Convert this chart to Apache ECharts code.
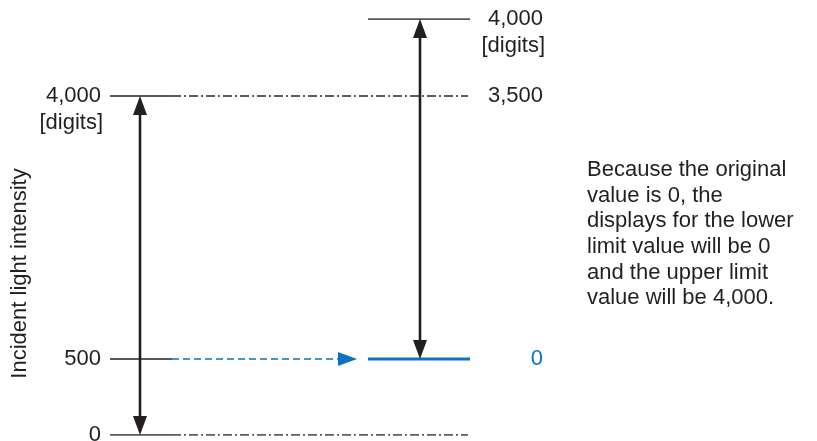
<!DOCTYPE html>
<html><head><meta charset="utf-8">
<script src="https://cdn.jsdelivr.net/npm/echarts@6/dist/echarts.min.js"></script>
<style>html,body{margin:0;padding:0;background:#fff}#c{width:817px;height:441px}</style>
</head><body><div id="c"></div>
<script>
// ---- data: scale levels (vertical diagram position) and labels ----
const levelPos = [0, 76, 339, 416];            // schematic heights of the levels
const leftLabels = ['0', '500', '4,000'];      // original scale
const leftLevelIdx = [0, 1, 2];
const rightLabels = ['0', '3,500', '4,000'];   // shifted scale
const rightLevelIdx = [1, 2, 3];
const unitLabel = '[digits]';
const chainLevelIdx = [0, 2];                  // dash-dot guide lines
const shiftLevelIdx = 1;                       // 500 -> 0 shift
const axisTitle = 'Incident light intensity';
const noteLines = ['Because the original', 'value is 0, the', 'displays for the lower',
                   'limit value will be 0', 'and the upper limit', 'value will be 4,000.'];

// ---- layout / style ----
const X = { leftTick: [110, 172], chainEnd: 468, leftArrow: 140, rightTick: [368, 470],
            rightArrow: 420, shiftTip: 357, leftLabel: 101, rightLabel: 543 };
const DARK = '#231f20', GREY = '#2a2a2a', BLUE = '#0f72bc';
const FONT = "'Liberation Sans', Arial, Helvetica, sans-serif";
const FS = 22;
const AW = 14, AH = 19;   // arrow head size

function seg(x1, x2, y, style) {
  return { type: 'line', data: [[x1, y], [x2, y]], showSymbol: false, silent: true,
           lineStyle: Object.assign({ opacity: 1 }, style), z: 2 };
}
function vseg(x, y1, y2, style) {
  return { type: 'line', data: [[x, y1], [x, y2]], showSymbol: false, silent: true,
           lineStyle: Object.assign({ opacity: 1 }, style), z: 2 };
}
function head(x, y, dir, color) {
  const cfg = { up: [0, [0, AH / 2]], down: [180, [0, -AH / 2]], right: [-90, [-AH / 2, 0]] }[dir];
  return { type: 'scatter', data: [[x, y]], symbol: 'triangle', symbolSize: [AW, AH],
           symbolRotate: cfg[0], symbolOffset: cfg[1], itemStyle: { color, opacity: 1 }, silent: true, z: 3 };
}
function labels(x, pts, color, offset) {
  return { type: 'scatter', symbolSize: 0, silent: true, z: 4, itemStyle: { opacity: 1 },
    data: pts.map(p => ({ value: [x, p[0]], label: { formatter: p[1], color: p[2] || color } })),
    label: { show: true, position: 'left', distance: 0, offset: offset || [0, 0],
             fontSize: FS, fontFamily: FONT, color, opacity: 1 } };
}

const series = [];
// left scale ticks
leftLevelIdx.forEach(i => series.push(seg(X.leftTick[0], X.leftTick[1], levelPos[i], { color: DARK, width: 1.3 })));
// dash-dot guides
chainLevelIdx.forEach(i => series.push(seg(X.leftTick[1], X.chainEnd, levelPos[i], { color: GREY, width: 1.5, type: [9, 3, 2, 3] })));
// blue dashed shift arrow
series.push(seg(X.leftTick[1], X.shiftTip - AH, levelPos[shiftLevelIdx], { color: BLUE, width: 1.4, type: [7, 4] }));
series.push(head(X.shiftTip, levelPos[shiftLevelIdx], 'right', BLUE));
// right scale ticks
series.push(seg(X.rightTick[0], X.rightTick[1], levelPos[rightLevelIdx[2]], { color: DARK, width: 1.3 }));
series.push(seg(X.rightTick[0], X.rightTick[1], levelPos[rightLevelIdx[0]], { color: BLUE, width: 3 }));
// double arrows
const lTop = levelPos[leftLevelIdx[2]], lBot = levelPos[leftLevelIdx[0]];
series.push(vseg(X.leftArrow, lBot + AH / 2, lTop - AH / 2, { color: DARK, width: 2.6 }));
series.push(head(X.leftArrow, lTop, 'up', DARK));
series.push(head(X.leftArrow, lBot, 'down', DARK));
const rTop = levelPos[rightLevelIdx[2]], rBot = levelPos[rightLevelIdx[0]];
series.push(vseg(X.rightArrow, rBot + AH / 2, rTop - AH / 2, { color: DARK, width: 2.6 }));
series.push(head(X.rightArrow, rTop, 'up', DARK));
series.push(head(X.rightArrow, rBot, 'down', DARK));
// labels
series.push(labels(X.leftLabel, leftLevelIdx.map((li, k) => [levelPos[li], leftLabels[k]]), DARK));
series.push(labels(X.rightLabel, rightLevelIdx.map((li, k) => [levelPos[li], rightLabels[k], k === 0 ? BLUE : null]), DARK));
series.push(labels(X.leftLabel, [[levelPos[leftLevelIdx[2]], unitLabel]], DARK, [2, 26.5]));
series.push(labels(X.rightLabel, [[levelPos[rightLevelIdx[2]], unitLabel]], DARK, [2, 27]));

const chart = echarts.init(document.getElementById('c'), null, { renderer: 'canvas' });
chart.setOption({
  animation: false,
  backgroundColor: '#fff',
  grid: { left: 0, right: 0, top: 19, bottom: 6 },
  xAxis: { type: 'value', min: 0, max: 817, show: false },
  yAxis: { type: 'value', min: 0, max: 416, show: false },
  title: { text: noteLines.join('\n'), left: 587, top: 157, padding: 0,
           textStyle: { fontSize: FS, fontWeight: 'normal', lineHeight: 25.7, color: DARK, fontFamily: FONT } },
  graphic: [{ type: 'text', x: 20, y: 273.5, rotation: Math.PI / 2, silent: true,
              style: { text: axisTitle, fontSize: FS, fontFamily: FONT, fill: DARK,
                       align: 'center', verticalAlign: 'middle', textAlign: 'center', textVerticalAlign: 'middle' } }],
  series
});
</script></body></html>
